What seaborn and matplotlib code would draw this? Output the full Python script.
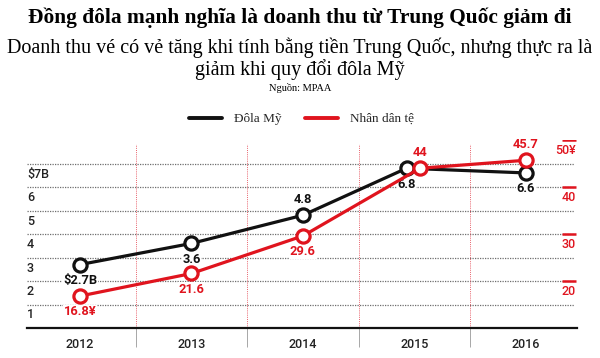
import matplotlib
matplotlib.use("Agg")
import matplotlib.pyplot as plt
from matplotlib.lines import Line2D
import seaborn as sns

# ── Dữ liệu ──────────────────────────────────────────────────────────────────
years = ["2012", "2013", "2014", "2015", "2016"]
usd = [2.7, 3.6, 4.8, 6.8, 6.6]            # tỷ USD
cny = [16.8, 21.6, 29.6, 44, 45.7]         # tỷ Nhân dân tệ
usd_labels = ["$2.7B", "3.6", "4.8", "6.8", "6.6"]
cny_labels = ["16.8¥", "21.6", "29.6", "44", "45.7"]
left_ticks = [1, 2, 3, 4, 5, 6, 7]
left_tick_labels = ["1", "2", "3", "4", "5", "6", "$7B"]
right_ticks = [20, 30, 40, 50]
right_tick_labels = ["20", "30", "40", "50¥"]

# ── Style ────────────────────────────────────────────────────────────────────
sns.set_theme(style="white")
plt.rcParams["font.family"] = ["Roboto", "DejaVu Sans"]
RED = "#e0141e"
BLACK = "#111111"
SERIF = ["Liberation Serif", "DejaVu Serif"]
label_box = dict(facecolor="white", edgecolor="none", pad=0.5)

usd_nudge = [0, 0, 0, -0.07, 0]
cny_nudge = [0, 0, 0, 0.05, 0]
usd_pos = ["below", "below", "above", "below", "below"]
cny_pos = ["below", "below", "below", "above", "above"]

fig = plt.figure(figsize=(6, 3.58), dpi=100)
ax = fig.add_axes([0.045, 0.0838, 0.917, 0.525])
ax2 = ax.twinx()

x_idx = list(range(len(years)))
x_usd = [i + d for i, d in zip(x_idx, usd_nudge)]
x_cny = [i + d for i, d in zip(x_idx, cny_nudge)]

ax.set_xlim(-0.475, 4.46)
ax.set_ylim(0, 8)
ax2.set_ylim(10, 50)

# lưới ngang
for v in left_ticks:
    ax.axhline(v, xmax=0.995, color="#6e6e6e", lw=0.9, ls=(0, (1, 1)), zorder=0)
for v, lab in zip(left_ticks, left_tick_labels):
    ax.text(-0.475, v - 0.17, lab, ha="left", va="top", fontsize=9,
            fontweight="medium", color="#222222")

# vạch dọc đỏ chia năm
for b in [0.5, 1.5, 2.5, 3.5]:
    ax.axvline(b, ymax=0.98, color="#e8606a", lw=0.7, ls=(0, (1, 1.2)), zorder=0)

# đường dữ liệu
line_kw = dict(marker="o", markerfacecolor="white", markersize=9.5,
               markeredgewidth=2.3, linewidth=2.3)
sns.lineplot(x=x_usd, y=usd, ax=ax, color=BLACK, markeredgecolor=BLACK,
             zorder=3, **line_kw)
sns.lineplot(x=x_cny, y=cny, ax=ax2, color=RED, markeredgecolor=RED,
             zorder=3, **line_kw)

for x, y, lab, p in zip(x_usd, usd, usd_labels, usd_pos):
    dy = 0.4 if p == "above" else -0.4
    ax.text(x, y + dy, lab, ha="center", va="bottom" if p == "above" else "top",
            fontsize=9.3, fontweight="bold", color=BLACK, bbox=label_box, zorder=2)
for x, y, lab, p in zip(x_cny, cny, cny_labels, cny_pos):
    dy = 2.0 if p == "above" else -2.0
    ax2.text(x, y + dy, lab, ha="center", va="bottom" if p == "above" else "top",
             fontsize=9.3, fontweight="bold", color=RED, bbox=label_box, zorder=2)

# trục phải (Nhân dân tệ)
for v, lab in zip(right_ticks, right_tick_labels):
    ax2.plot([4.32, 4.445], [v, v], color=RED, lw=1.8, solid_capstyle="butt")
    ax2.text(4.445, v - 0.9, lab, ha="right", va="top", fontsize=9,
             fontweight="medium", color=RED)

# trục
for a in (ax, ax2):
    for s in ["top", "right", "left"]:
        a.spines[s].set_visible(False)
    a.set_ylabel("")
    a.set_yticks([])
ax2.spines["bottom"].set_visible(False)
ax.spines["bottom"].set_color(BLACK)
ax.spines["bottom"].set_linewidth(1.6)
ax.set_xticks(x_idx)
ax.set_xticklabels(years, fontsize=9, fontweight="medium", color="#222222")
ax.set_xticks([0.5, 1.5, 2.5, 3.5], minor=True)
ax.tick_params(axis="x", which="major", length=0, pad=7)
ax.tick_params(axis="x", which="minor", length=14, width=0.6, color="#999999",
               bottom=True, direction="out")

# chú thích
handles = [Line2D([], [], color=BLACK, lw=2.8),
           Line2D([], [], color=RED, lw=2.8)]
fig.legend(handles, ["Đôla Mỹ", "Nhân dân tệ"], loc="center",
           bbox_to_anchor=(0.502, 1 - 119 / 358), ncol=2, frameon=False,
           prop={"family": SERIF, "size": 9.5}, handlelength=2.5,
           handletextpad=0.9, columnspacing=1.8)

# tiêu đề
fig.text(0.5, 1 - 18 / 358, "Đồng đôla mạnh nghĩa là doanh thu từ Trung Quốc giảm đi",
         ha="center", va="center", fontsize=15.4, fontweight="bold",
         family=SERIF, color="#000000")
fig.text(0.5, 1 - 58.5 / 358,
         "Doanh thu vé có vẻ tăng khi tính bằng tiền Trung Quốc, nhưng thực ra là\n"
         "giảm khi quy đổi đôla Mỹ",
         ha="center", va="center", fontsize=14.5, family=SERIF,
         linespacing=1.05, color="#000000")
fig.text(0.5, 1 - 88 / 358, "Nguồn: MPAA", ha="center", va="center",
         fontsize=7.5, family=SERIF, color="#000000")

fig.savefig("out.png", dpi=100)
